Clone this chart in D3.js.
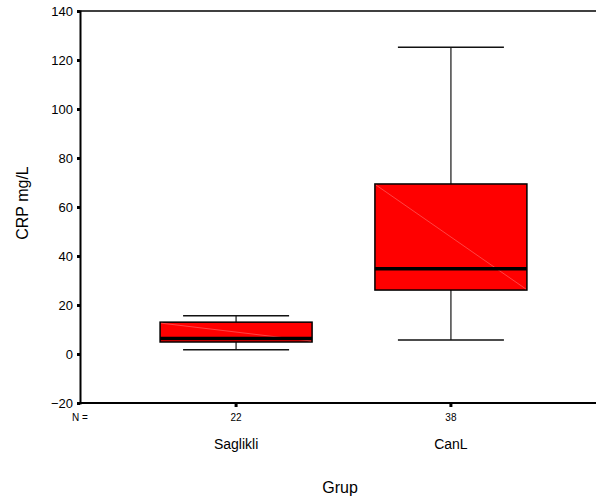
<!DOCTYPE html>
<html>
<head>
<meta charset="utf-8">
<script src="https://cdn.jsdelivr.net/npm/d3@7"></script>
<style>
body{margin:0;background:#fff;}
text{font-family:"Liberation Sans",Arial,sans-serif;fill:#000;}
</style>
</head>
<body>
<svg width="597" height="503"></svg>
<script>
const groups=['Saglikli','CanL'];
const counts=[22,38];
const whiskLow=[1.7,5.7];
const q1=[4.9,26.1];
const medians=[6.3,34.8];
const q3=[13,69.4];
const whiskHigh=[15.6,125.2];
const yTicks=[-20,0,20,40,60,80,100,120,140];

const svg=d3.select('svg');
const width=+svg.attr('width');

const y=d3.scaleLinear().domain([-20,140]).range([403,11]);
const x=d3.scalePoint().domain(groups).range([90,597]).padding(0.68);
const boxW=152, capW=106;

const data=groups.map((g,i)=>({g,n:counts[i],lo:whiskLow[i],q1:q1[i],med:medians[i],q3:q3[i],hi:whiskHigh[i]}));

// top frame line
svg.append('line')
  .attr('x1',80).attr('x2',width-1)
  .attr('y1',y(140)).attr('y2',y(140))
  .attr('stroke','#000').attr('stroke-width',1.5);

// y axis
const yAxis=d3.axisLeft(y).tickValues(yTicks).tickSize(3).tickPadding(4);
const gy=svg.append('g').attr('transform','translate(80,0)').call(yAxis);
gy.select('.domain').attr('stroke-width',2);
gy.selectAll('.tick line').attr('stroke-width',3);
gy.selectAll('text').style('font-size','13px').style('font-family','"Liberation Sans",Arial,sans-serif');

// x axis
svg.append('line')
  .attr('x1',79).attr('x2',width-1)
  .attr('y1',403).attr('y2',403)
  .attr('stroke','#000').attr('stroke-width',2);
svg.selectAll('.xtick').data(groups).enter().append('line')
  .attr('x1',d=>x(d)).attr('x2',d=>x(d))
  .attr('y1',403).attr('y2',407)
  .attr('stroke','#000').attr('stroke-width',3);

const box=svg.selectAll('.box').data(data).enter().append('g');

// whiskers
box.append('line')
  .attr('x1',d=>x(d.g)).attr('x2',d=>x(d.g))
  .attr('y1',d=>y(d.hi)).attr('y2',d=>y(d.q3))
  .attr('stroke','#444').attr('stroke-width',1.5);
box.append('line')
  .attr('x1',d=>x(d.g)).attr('x2',d=>x(d.g))
  .attr('y1',d=>y(d.q1)).attr('y2',d=>y(d.lo))
  .attr('stroke','#444').attr('stroke-width',1.5);
box.append('line')
  .attr('x1',d=>x(d.g)-capW/2).attr('x2',d=>x(d.g)+capW/2)
  .attr('y1',d=>y(d.hi)).attr('y2',d=>y(d.hi))
  .attr('stroke','#111').attr('stroke-width',1.5);
box.append('line')
  .attr('x1',d=>x(d.g)-capW/2).attr('x2',d=>x(d.g)+capW/2)
  .attr('y1',d=>y(d.lo)).attr('y2',d=>y(d.lo))
  .attr('stroke','#111').attr('stroke-width',1.5);

// boxes
box.append('rect')
  .attr('x',d=>x(d.g)-boxW/2)
  .attr('y',d=>y(d.q3))
  .attr('width',boxW)
  .attr('height',d=>y(d.q1)-y(d.q3))
  .attr('fill','#ff0000')
  .attr('stroke','#000').attr('stroke-width',1.5);
box.append('line')
  .attr('x1',d=>x(d.g)-boxW/2+1).attr('x2',d=>x(d.g)+boxW/2-1)
  .attr('y1',d=>y(d.q3)+1).attr('y2',d=>y(d.q1)-1)
  .attr('stroke','#ff7070').attr('stroke-width',0.6);
box.append('line')
  .attr('x1',d=>x(d.g)-boxW/2).attr('x2',d=>x(d.g)+boxW/2)
  .attr('y1',d=>y(d.med)).attr('y2',d=>y(d.med))
  .attr('stroke','#000').attr('stroke-width',3.5);

// N labels
svg.append('text').attr('x',80).attr('y',421)
  .attr('text-anchor','middle').style('font-size','10px').text('N =');
svg.selectAll('.nlab').data(data).enter().append('text')
  .attr('x',d=>x(d.g)).attr('y',421)
  .attr('text-anchor','middle').style('font-size','10px')
  .text(d=>d.n);

// category labels
svg.selectAll('.clab').data(groups).enter().append('text')
  .attr('x',d=>x(d)).attr('y',449)
  .attr('text-anchor','middle').style('font-size','14px')
  .text(d=>d);

// axis titles
svg.append('text').attr('x',340).attr('y',493)
  .attr('text-anchor','middle').style('font-size','16px').text('Grup');
svg.append('text')
  .attr('transform','translate(28,203) rotate(-90)')
  .attr('text-anchor','middle').style('font-size','16px').text('CRP mg/L');
</script>
</body>
</html>
